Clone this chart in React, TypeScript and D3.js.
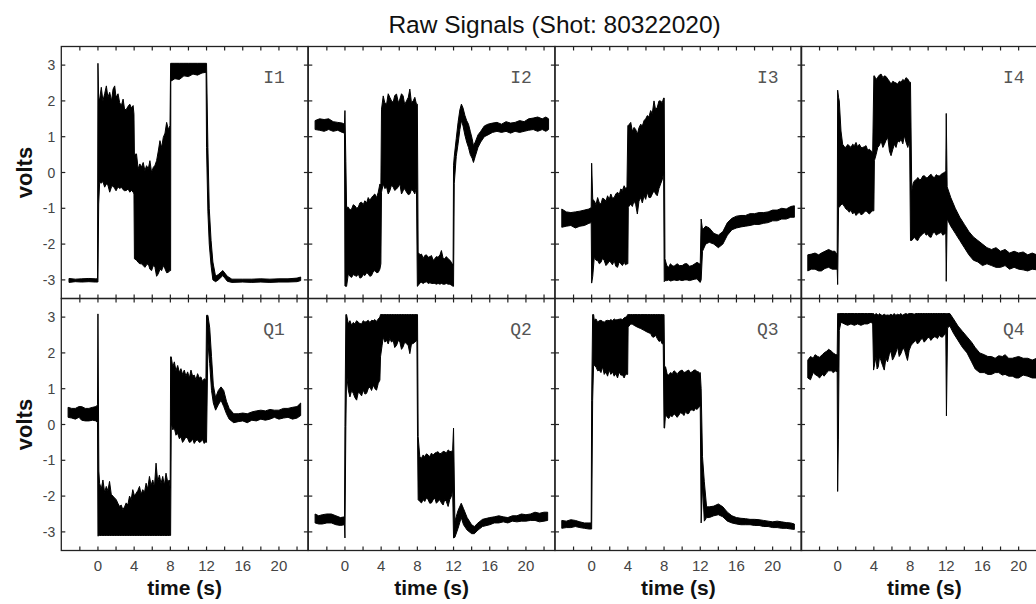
import React from 'react';
import * as d3 from 'd3';

type Pt = [number, number, number]; // [time, low envelope, high envelope]

const signalI1: Pt[] = [
  [-3.2,-3.07,-2.96],[-2.5,-3.05,-2.98],[-1.8,-3.06,-2.97],[-1.0,-3.05,-2.96],[-0.3,-3.06,-2.97],[-0.05,-3.06,-2.97],
  [0,-3.06,3.05],
  [0.08,-0.88,2.05],[0.19,-0.27,2.05],[0.37,-0.3,2.38],[0.55,-0.25,2.0],[0.74,-0.41,2.2],[0.93,-0.32,2.42],[1.1,-0.35,2.1],[1.3,-0.55,2.24],[1.5,-0.4,2.0],[1.67,-0.37,2.33],[1.85,-0.45,2.42],[2.0,-0.51,2.1],[2.22,-0.4,2.2],[2.4,-0.45,1.95],[2.59,-0.41,1.87],[2.78,-0.48,2.05],[2.95,-0.51,1.75],[3.15,-0.5,1.77],[3.33,-0.46,1.85],[3.52,-0.55,1.91],[3.7,-0.5,1.8],[3.89,-0.55,1.87],[3.98,-0.6,1.63],
  [4.03,-2.41,0.5],[4.26,-2.45,0.52],[4.44,-2.51,0.1],[4.63,-2.55,0.24],[4.81,-2.55,0.15],[5.0,-2.6,0.28],[5.19,-2.65,0.05],[5.37,-2.58,0.19],[5.56,-2.55,0.1],[5.74,-2.7,0.33],[5.93,-2.74,0.0],[6.11,-2.6,0.14],[6.3,-2.65,0.2],[6.48,-2.9,0.33],[6.67,-2.83,0.6],[6.85,-2.7,0.89],[7.04,-2.74,0.7],[7.22,-2.6,0.98],[7.41,-2.69,1.1],[7.59,-2.8,1.4],[7.78,-2.79,1.2],[7.96,-2.74,1.31],
  [8.03,-2.74,3.05],[8.05,2.55,3.05],[8.5,2.62,3.05],[9,2.6,3.05],[9.5,2.7,3.05],[10,2.68,3.05],[10.5,2.75,3.05],[11,2.72,3.05],[11.5,2.78,3.05],[11.95,2.8,3.05],
  [12.0,0.7,3.05],[12.15,-1.1,0.7],[12.3,-2.0,-1.0],[12.5,-2.6,-1.9],[12.7,-3.0,-2.5],[13.0,-3.05,-2.9],[13.3,-3.0,-2.85],[13.8,-2.88,-2.74],[14.3,-3.04,-2.9],[14.8,-3.07,-2.98],[16,-3.06,-2.98],[17,-3.07,-2.98],[18,-3.06,-2.97],[19,-3.07,-2.98],[20,-3.06,-2.97],[21,-3.06,-2.97],[22,-3.05,-2.95],[22.4,-3.02,-2.92],
];

const signalI2: Pt[] = [
  [-3.3,1.2,1.45],[-2.8,1.18,1.5],[-2.3,1.15,1.48],[-1.8,1.2,1.5],[-1.3,1.15,1.42],[-0.8,1.18,1.4],[-0.3,1.12,1.38],[-0.05,1.1,1.35],
  [0,-3.17,1.73],
  [0.1,-3.18,0.3],[0.18,-3.18,-0.97],[0.37,-2.83,-0.97],[0.55,-2.9,-1.05],[0.74,-2.93,-1.02],[0.92,-2.85,-0.9],[1.1,-2.88,-0.93],[1.3,-2.9,-1.0],[1.47,-2.83,-0.97],[1.65,-2.95,-0.85],[1.84,-2.93,-0.83],[2.02,-2.85,-0.9],[2.2,-2.88,-0.79],[2.4,-2.8,-0.85],[2.57,-2.83,-0.7],[2.75,-2.9,-0.78],[2.94,-2.88,-0.7],[3.1,-2.78,-0.65],[3.3,-2.74,-0.6],[3.5,-2.8,-0.7],[3.68,-2.79,-0.55],[3.86,-2.7,-0.32],[3.97,-2.55,-0.35],
  [4.04,-0.55,1.77],[4.23,-0.32,2.14],[4.4,-0.45,1.95],[4.6,-0.41,1.91],[4.78,-0.6,2.2],[4.96,-0.51,2.1],[5.15,-0.35,2.0],[5.33,-0.41,1.96],[5.5,-0.5,2.15],[5.7,-0.46,2.19],[5.9,-0.4,1.95],[6.07,-0.32,2.05],[6.25,-0.6,2.2],[6.43,-0.51,2.14],[6.6,-0.45,1.9],[6.8,-0.55,2.0],[7.0,-0.62,2.1],[7.17,-0.6,2.33],[7.35,-0.48,1.95],[7.54,-0.51,2.0],[7.72,-0.6,2.1],[7.9,-0.41,1.91],
  [8.0,-3.18,1.91],[8.09,-3.16,-2.23],[8.3,-3.08,-2.3],[8.46,-3.07,-2.28],[8.65,-3.1,-2.4],[8.82,-3.07,-2.32],[9.0,-3.05,-2.3],[9.19,-3.1,-2.37],[9.4,-3.08,-2.35],[9.56,-3.1,-2.32],[9.75,-3.1,-2.45],[9.93,-3.1,-2.41],[10.1,-3.12,-2.35],[10.29,-3.1,-2.37],[10.5,-3.12,-2.3],[10.66,-3.1,-2.18],[10.85,-3.12,-2.4],[11.03,-3.12,-2.41],[11.2,-3.1,-2.35],[11.4,-3.12,-2.41],[11.6,-3.12,-2.45],[11.76,-3.15,-2.51],[11.95,-3.18,-2.6],
  [12.0,-3.18,0.2],[12.08,-0.3,0.45],[12.3,0.45,0.95],[12.5,0.8,1.4],[12.7,1.2,1.75],[12.87,1.45,1.91],[13.05,1.3,1.8],[13.25,1.05,1.6],[13.45,0.85,1.45],[13.65,0.7,1.35],[13.85,0.5,1.15],[14.05,0.4,0.95],[14.2,0.28,0.75],[14.4,0.45,0.85],[14.7,0.7,1.05],[15.0,0.85,1.15],[15.4,1.0,1.3],[15.8,1.05,1.35],[16.3,1.12,1.38],[16.8,1.15,1.4],[17.3,1.12,1.35],[17.8,1.15,1.42],[18.3,1.1,1.38],[18.8,1.15,1.4],[19.3,1.12,1.45],[19.8,1.15,1.42],[20.3,1.18,1.5],[20.8,1.2,1.52],[21.3,1.15,1.55],[21.8,1.2,1.5],[22.2,1.15,1.55],[22.5,1.2,1.5],
];

const signalI3: Pt[] = [
  [-3.3,-1.53,-1.02],[-2.8,-1.5,-1.1],[-2.3,-1.48,-1.12],[-1.8,-1.55,-1.1],[-1.3,-1.5,-1.08],[-0.8,-1.48,-1.05],[-0.3,-1.42,-1.02],[-0.05,-1.4,-0.98],
  [0,-3.09,0.26],
  [0.12,-2.9,-0.75],[0.29,-2.37,-0.79],[0.48,-2.45,-0.9],[0.66,-2.46,-0.7],[0.85,-2.55,-0.85],[1.03,-2.51,-0.88],[1.2,-2.4,-0.72],[1.39,-2.46,-0.74],[1.58,-2.6,-0.8],[1.76,-2.55,-0.65],[1.94,-2.48,-0.75],[2.12,-2.51,-0.6],[2.3,-2.58,-0.72],[2.49,-2.46,-0.7],[2.67,-2.62,-0.6],[2.86,-2.65,-0.55],[3.04,-2.5,-0.62],[3.22,-2.55,-0.46],[3.4,-2.6,-0.5],[3.59,-2.51,-0.37],[3.75,-2.58,-0.45],[3.9,-2.55,-0.41],
  [4.0,-2.55,1.31],[4.05,-0.97,1.31],[4.32,-0.88,1.4],[4.5,-0.95,1.15],[4.69,-0.79,1.26],[4.87,-0.9,1.2],[5.05,-1.16,1.07],[5.23,-0.8,1.25],[5.42,-0.7,1.35],[5.6,-0.85,1.3],[5.79,-0.65,1.45],[5.97,-0.75,1.5],[6.15,-0.55,1.59],[6.33,-0.7,1.55],[6.52,-0.7,1.73],[6.7,-0.6,1.65],[6.89,-0.51,2.0],[7.07,-0.6,1.75],[7.25,-0.65,1.82],[7.44,-0.45,2.0],[7.62,-0.32,2.0],[7.8,-0.2,1.95],[7.95,0.0,2.08],
  [8.02,-3.05,2.08],[8.1,-3.02,-2.41],[8.3,-3.02,-2.6],[8.53,-3.0,-2.65],[8.7,-3.03,-2.55],[8.9,-3.02,-2.6],[9.1,-3.0,-2.62],[9.45,-3.02,-2.55],[9.7,-3.0,-2.6],[10.0,-3.02,-2.6],[10.3,-3.0,-2.55],[10.55,-3.0,-2.55],[10.8,-3.02,-2.62],[11.1,-3.0,-2.6],[11.4,-2.98,-2.55],[11.65,-2.97,-2.51],[11.9,-3.05,-2.55],[12.0,-3.07,-2.55],
  [12.1,-3.0,-1.3],[12.25,-2.2,-1.6],[12.6,-2.0,-1.5],[13.0,-1.95,-1.55],[13.5,-2.0,-1.7],[14.0,-2.1,-1.75],[14.5,-2.0,-1.65],[15.0,-1.75,-1.4],[15.5,-1.6,-1.28],[16,-1.55,-1.22],[16.5,-1.52,-1.2],[17,-1.5,-1.2],[17.5,-1.48,-1.15],[18,-1.45,-1.15],[18.5,-1.45,-1.12],[19,-1.42,-1.12],[19.5,-1.4,-1.1],[20,-1.35,-1.05],[20.5,-1.35,-1.05],[21,-1.3,-1.0],[21.5,-1.3,-1.02],[22,-1.25,-0.95],[22.4,-1.25,-0.93],
];

const signalI4: Pt[] = [
  [-3.3,-2.75,-2.3],[-2.9,-2.7,-2.28],[-2.5,-2.7,-2.25],[-2.1,-2.75,-2.3],[-1.8,-2.75,-2.25],[-1.4,-2.68,-2.2],[-1.0,-2.65,-2.15],[-0.6,-2.7,-2.2],[-0.3,-2.7,-2.2],[-0.05,-2.7,-2.3],
  [0,-3.13,2.3],
  [0.1,-0.97,2.1],[0.18,-0.97,2.0],[0.37,-0.9,1.16],[0.55,-0.88,0.79],[0.74,-0.95,0.72],[0.92,-1.02,0.7],[1.1,-1.05,0.78],[1.29,-1.11,0.75],[1.47,-1.05,0.7],[1.66,-1.16,0.79],[1.84,-1.1,0.75],[2.03,-1.2,0.84],[2.2,-1.15,0.72],[2.4,-1.11,0.79],[2.58,-1.18,0.7],[2.77,-1.16,0.7],[2.95,-1.1,0.72],[3.14,-1.07,0.75],[3.32,-1.12,0.62],[3.51,-1.16,0.65],[3.7,-1.1,0.6],[3.87,-1.07,0.56],
  [4.0,-1.07,2.7],[4.06,0.33,2.7],[4.25,0.5,2.6],[4.43,0.7,2.66],[4.6,0.75,2.72],[4.8,0.89,2.75],[5.0,0.7,2.65],[5.17,0.79,2.7],[5.35,0.9,2.68],[5.54,0.98,2.61],[5.72,0.6,2.55],[5.9,0.47,2.47],[6.1,0.65,2.55],[6.27,0.79,2.52],[6.45,0.7,2.5],[6.64,0.89,2.47],[6.82,0.85,2.55],[7.01,0.93,2.52],[7.2,0.8,2.6],[7.38,1.03,2.56],[7.55,0.85,2.65],[7.75,0.7,2.61],[7.95,0.89,2.52],
  [8.05,-1.9,2.52],[8.19,-1.9,-0.51],[8.35,-1.85,-0.3],[8.49,-1.81,-0.23],[8.68,-1.88,-0.2],[8.86,-1.9,-0.14],[9.05,-1.8,-0.2],[9.23,-1.76,-0.19],[9.4,-1.72,-0.1],[9.59,-1.67,-0.09],[9.78,-1.75,-0.15],[9.96,-1.72,-0.14],[10.15,-1.8,-0.08],[10.33,-1.81,-0.05],[10.5,-1.7,-0.12],[10.7,-1.67,-0.14],[10.9,-1.75,-0.06],[11.07,-1.72,-0.09],[11.25,-1.7,-0.1],[11.44,-1.67,-0.05],[11.62,-1.75,-0.02],[11.81,-1.72,0.0],[11.95,-1.7,0.05],
  [12.0,-3.04,1.65],
  [12.1,-1.3,-0.4],[12.5,-1.5,-0.7],[13,-1.7,-1.0],[13.5,-1.9,-1.25],[14,-2.1,-1.45],[14.5,-2.3,-1.65],[15,-2.45,-1.8],[15.5,-2.5,-1.9],[16,-2.6,-2.0],[16.5,-2.55,-2.1],[17,-2.6,-2.15],[17.5,-2.65,-2.1],[18,-2.65,-2.2],[18.5,-2.6,-2.15],[19,-2.7,-2.25],[19.5,-2.65,-2.2],[20,-2.7,-2.25],[20.5,-2.72,-2.22],[21,-2.75,-2.3],[21.5,-2.7,-2.25],[22,-2.72,-2.3],[22.5,-2.7,-2.28],[23.2,-2.7,-2.3],
];

const signalQ1: Pt[] = [
  [-3.3,0.2,0.48],[-2.9,0.18,0.45],[-2.5,0.15,0.45],[-2.1,0.2,0.5],[-1.8,0.12,0.5],[-1.4,0.1,0.45],[-1.0,0.1,0.45],[-0.6,0.12,0.48],[-0.2,0.1,0.5],[-0.05,0.05,0.55],
  [0,-3.12,3.09],
  [0.1,-3.1,-1.3],[0.18,-3.1,-1.64],[0.37,-3.1,-1.8],[0.55,-3.1,-1.55],[0.74,-3.1,-1.9],[0.92,-3.1,-1.73],[1.1,-3.1,-1.85],[1.28,-3.1,-1.59],[1.47,-3.1,-1.95],[1.65,-3.1,-2.0],[1.84,-3.1,-2.05],[2.02,-3.1,-2.1],[2.2,-3.1,-2.2],[2.39,-3.1,-2.29],[2.57,-3.1,-2.25],[2.75,-3.1,-2.38],[2.94,-3.1,-2.3],[3.12,-3.1,-2.19],[3.3,-3.1,-2.25],[3.49,-3.1,-2.0],[3.67,-3.1,-2.1],[3.85,-3.1,-1.82],[4.04,-3.1,-2.0],[4.22,-3.1,-1.92],[4.4,-3.1,-1.85],[4.59,-3.1,-1.73],[4.77,-3.1,-1.95],[4.95,-3.1,-1.82],[5.14,-3.1,-1.9],[5.32,-3.1,-1.64],[5.5,-3.1,-1.8],[5.69,-3.1,-1.45],[5.87,-3.1,-1.7],[6.06,-3.1,-1.55],[6.24,-3.1,-1.75],[6.42,-3.1,-1.08],[6.6,-3.1,-1.6],[6.79,-3.1,-1.41],[6.97,-3.1,-1.65],[7.16,-3.1,-1.45],[7.34,-3.1,-1.7],[7.52,-3.1,-1.36],[7.7,-3.1,-1.6],[7.89,-3.1,-1.55],[7.98,-3.1,-1.78],
  [8.03,-3.1,1.89],[8.1,0.03,1.89],[8.27,-0.15,1.6],[8.44,-0.1,1.75],[8.62,-0.3,1.5],[8.81,-0.25,1.65],[9.0,-0.4,1.45],[9.17,-0.34,1.56],[9.35,-0.5,1.4],[9.54,-0.43,1.52],[9.72,-0.35,1.35],[9.91,-0.39,1.47],[10.1,-0.5,1.3],[10.28,-0.48,1.52],[10.46,-0.4,1.35],[10.64,-0.53,1.38],[10.83,-0.45,1.25],[11.01,-0.43,1.42],[11.2,-0.5,1.3],[11.38,-0.48,1.33],[11.56,-0.42,1.2],[11.74,-0.53,1.28],[11.93,-0.48,1.24],
  [12.0,-0.5,3.05],[12.15,2.3,3.05],[12.35,1.7,2.7],[12.55,0.95,1.9],[12.75,0.6,1.1],[13.0,0.4,0.75],[13.3,0.55,0.95],[13.6,0.68,1.05],[13.9,0.5,0.95],[14.2,0.3,0.65],[14.5,0.15,0.45],[15,0.05,0.3],[15.5,0.08,0.3],[16,0.1,0.32],[16.5,0.05,0.3],[17,0.12,0.35],[17.5,0.1,0.38],[18,0.15,0.4],[18.5,0.12,0.38],[19,0.15,0.42],[19.5,0.2,0.4],[20,0.15,0.4],[20.5,0.18,0.45],[21,0.2,0.45],[21.5,0.15,0.48],[22,0.18,0.5],[22.4,0.25,0.6],
];

const signalQ2: Pt[] = [
  [-3.3,-2.75,-2.5],[-2.9,-2.78,-2.55],[-2.5,-2.78,-2.52],[-2.0,-2.75,-2.5],[-1.5,-2.75,-2.5],[-1.0,-2.8,-2.55],[-0.5,-2.82,-2.6],[-0.05,-2.8,-2.58],
  [0,-3.17,-0.06],[0.1,-0.06,3.07],[0.18,1.42,3.07],[0.37,0.96,2.81],[0.55,0.77,2.9],[0.74,0.95,2.77],[0.92,0.87,2.85],[1.1,0.75,2.81],[1.29,0.68,2.9],[1.47,0.9,2.86],[1.65,0.87,2.82],[1.84,0.8,2.81],[2.02,0.96,2.9],[2.21,0.85,2.86],[2.39,0.87,2.88],[2.57,1.0,2.91],[2.76,1.05,2.85],[2.94,0.95,2.91],[3.13,1.1,2.9],[3.31,1.0,2.93],[3.49,0.96,2.88],[3.68,1.15,2.95],[3.86,1.24,3.0],
  [3.93,1.89,3.07],[4.1,2.2,3.07],[4.23,2.44,3.07],[4.42,2.3,3.07],[4.6,2.35,3.07],[4.78,2.25,3.07],[4.96,2.4,3.07],[5.15,2.3,3.07],[5.33,2.35,3.07],[5.5,2.15,3.07],[5.7,2.21,3.07],[5.9,2.35,3.07],[6.07,2.3,3.07],[6.25,2.1,3.07],[6.43,2.17,3.07],[6.6,2.3,3.07],[6.8,2.26,3.07],[7.0,2.2,3.07],[7.17,1.98,3.07],[7.35,2.25,3.07],[7.54,2.26,3.07],[7.72,2.3,3.07],[7.95,2.35,3.07],
  [8.02,-0.34,3.07],[8.09,-2.1,-0.34],[8.27,-2.15,-0.9],[8.46,-2.19,-0.94],[8.64,-2.1,-0.85],[8.82,-2.15,-0.9],[9.0,-2.05,-0.82],[9.19,-2.1,-0.85],[9.37,-2.2,-0.9],[9.56,-2.19,-0.8],[9.75,-2.1,-0.85],[9.93,-2.06,-0.8],[10.1,-2.2,-0.78],[10.29,-2.15,-0.76],[10.47,-2.1,-0.82],[10.66,-2.19,-0.8],[10.85,-2.25,-0.75],[11.03,-2.1,-0.76],[11.2,-2.15,-0.8],[11.4,-2.29,-0.71],[11.58,-2.1,-0.75],[11.76,-2.01,-0.76],[11.9,-1.82,-0.71],
  [12.0,-3.17,-0.1],[12.15,-3.15,-2.7],[12.5,-2.9,-2.4],[12.85,-2.6,-2.2],[13.1,-2.8,-2.35],[13.5,-2.95,-2.6],[14.0,-3.05,-2.8],[14.3,-3.05,-2.85],[14.7,-2.95,-2.75],[15.2,-2.85,-2.65],[16,-2.8,-2.6],[16.5,-2.75,-2.58],[17,-2.75,-2.55],[17.5,-2.72,-2.58],[18,-2.75,-2.6],[18.5,-2.7,-2.55],[19,-2.72,-2.55],[19.5,-2.7,-2.5],[20,-2.7,-2.52],[20.5,-2.68,-2.5],[21,-2.68,-2.45],[21.5,-2.72,-2.48],[22,-2.7,-2.45],[22.4,-2.68,-2.45],
];

const signalQ3: Pt[] = [
  [-3.3,-2.9,-2.68],[-2.8,-2.88,-2.7],[-2.3,-2.88,-2.66],[-1.8,-2.85,-2.68],[-1.3,-2.88,-2.72],[-0.8,-2.9,-2.75],[-0.3,-2.92,-2.75],[-0.05,-2.92,-2.75],
  [0,-2.92,0.68],[0.11,0.68,3.07],[0.22,1.73,3.07],[0.29,1.65,2.91],[0.48,1.61,2.95],[0.66,1.5,2.86],[0.84,1.52,2.9],[1.03,1.45,2.91],[1.21,1.61,2.88],[1.39,1.4,2.86],[1.58,1.47,2.9],[1.76,1.35,2.91],[1.94,1.52,2.9],[2.12,1.4,2.93],[2.31,1.47,2.9],[2.49,1.35,2.95],[2.67,1.42,2.92],[2.86,1.3,2.93],[3.04,1.47,2.94],[3.22,1.38,2.95],[3.41,1.38,2.93],[3.59,1.3,2.98],[3.77,1.42,3.0],[3.88,1.4,3.02],
  [3.98,1.4,3.07],[4.03,2.72,3.07],[4.32,2.81,3.07],[4.5,2.8,3.07],[4.69,2.77,3.07],[5.05,2.72,3.07],[5.42,2.68,3.07],[5.79,2.63,3.07],[6.15,2.58,3.07],[6.52,2.54,3.07],[6.7,2.45,3.07],[6.89,2.44,3.07],[7.05,2.5,3.07],[7.25,2.4,3.07],[7.45,2.32,3.07],[7.62,2.35,3.07],[7.8,2.25,3.07],[7.91,2.26,3.07],
  [8.0,-0.1,3.07],[8.06,-0.1,1.61],[8.17,0.31,1.61],[8.35,0.2,1.4],[8.53,0.17,1.38],[8.7,0.25,1.45],[8.9,0.22,1.42],[9.1,0.3,1.5],[9.27,0.26,1.47],[9.45,0.2,1.4],[9.63,0.26,1.47],[9.8,0.33,1.5],[10.0,0.31,1.52],[10.2,0.25,1.45],[10.37,0.36,1.47],[10.55,0.3,1.5],[10.73,0.31,1.52],[10.9,0.4,1.45],[11.1,0.41,1.47],[11.3,0.38,1.52],[11.47,0.45,1.52],[11.65,0.42,1.48],[11.83,0.48,1.47],[11.94,0.5,1.42],
  [12.0,0.5,1.45],[12.1,-2.75,1.0],[12.25,-1.7,-0.9],[12.45,-2.7,-1.6],[12.7,-2.6,-2.3],[13.0,-2.6,-2.3],[13.5,-2.55,-2.28],[14.0,-2.52,-2.22],[14.5,-2.58,-2.3],[15,-2.7,-2.45],[15.5,-2.75,-2.55],[16,-2.78,-2.6],[16.5,-2.8,-2.62],[17,-2.8,-2.63],[17.5,-2.8,-2.65],[18,-2.82,-2.65],[18.5,-2.82,-2.66],[19,-2.85,-2.68],[19.5,-2.85,-2.7],[20,-2.88,-2.72],[20.5,-2.88,-2.7],[21,-2.9,-2.72],[21.5,-2.9,-2.74],[22,-2.92,-2.75],[22.4,-2.93,-2.78],
];

const signalQ4: Pt[] = [
  [-3.3,1.3,1.8],[-3.0,1.25,1.9],[-2.7,1.45,1.85],[-2.5,1.4,1.95],[-2.2,1.35,1.9],[-2.0,1.3,1.88],[-1.7,1.4,1.95],[-1.5,1.35,2.0],[-1.2,1.45,2.05],[-1.0,1.5,2.1],[-0.7,1.5,2.05],[-0.5,1.45,2.0],[-0.2,1.5,1.95],[-0.05,1.45,1.95],
  [0,-1.87,3.1],[0.08,-0.43,3.1],[0.18,2.63,3.1],[0.37,2.86,3.1],[0.74,2.81,3.1],[1.1,2.77,3.1],[1.47,2.81,3.1],[1.84,2.77,3.1],[2.21,2.81,3.1],[2.57,2.77,3.1],[2.94,2.81,3.1],[3.31,2.81,3.1],[3.68,2.86,3.1],[3.87,2.81,3.1],
  [3.97,1.52,3.1],[4.1,1.7,3.05],[4.23,1.89,3.1],[4.36,1.55,3.08],[4.49,1.61,3.05],[4.63,1.9,3.1],[4.78,1.79,3.06],[4.96,1.65,3.05],[5.15,1.52,3.08],[5.33,1.85,3.05],[5.51,1.75,3.06],[5.7,1.95,3.05],[5.88,2.07,3.08],[6.06,1.8,3.05],[6.25,1.89,3.1],[6.43,2.0,3.05],[6.62,2.17,3.08],[6.8,1.9,3.06],[6.99,1.98,3.1],[7.17,2.1,3.05],[7.35,2.12,3.08],[7.53,1.95,3.1],[7.72,1.79,3.08],[7.9,2.07,3.1],
  [8.1,2.2,3.1],[8.27,2.26,3.1],[8.45,2.3,3.08],[8.64,2.35,3.1],[8.82,2.25,3.1],[9.01,2.3,3.1],[9.2,2.38,3.1],[9.38,2.4,3.1],[9.56,2.3,3.1],[9.74,2.35,3.1],[9.93,2.42,3.1],[10.11,2.44,3.1],[10.3,2.35,3.1],[10.48,2.4,3.1],[10.66,2.45,3.1],[10.85,2.44,3.1],[11.03,2.4,3.1],[11.21,2.49,3.1],[11.4,2.45,3.1],[11.58,2.44,3.1],[11.76,2.5,3.1],[11.95,2.54,3.1],
  [12.02,0.24,3.1],[12.15,2.7,3.1],[12.4,2.75,3.1],[12.8,2.55,2.95],[13.3,2.35,2.75],[13.8,2.15,2.6],[14.3,2.0,2.45],[14.8,1.75,2.3],[15.2,1.55,2.15],[15.7,1.45,2.0],[16.2,1.45,1.95],[16.6,1.4,1.9],[17,1.4,1.9],[17.4,1.45,1.85],[17.8,1.45,1.92],[18.2,1.38,1.9],[18.5,1.4,1.95],[18.9,1.35,1.85],[19.3,1.35,1.85],[19.7,1.3,1.88],[20,1.3,1.9],[20.5,1.38,1.85],[21,1.35,1.85],[21.5,1.3,1.8],[22,1.3,1.85],[22.5,1.35,1.8],[23.2,1.35,1.8],
];

const panelNames = ['I1', 'I2', 'I3', 'I4', 'Q1', 'Q2', 'Q3', 'Q4'];
const timeTicks = [-2, 0, 2, 4, 6, 8, 10, 12, 14, 16, 18, 20, 22];
const timeLabels = [0, 4, 8, 12, 16, 20];
const voltTicks = [-3, -2, -1, 0, 1, 2, 3];
const titleText = 'Raw Signals (Shot: 80322020)';
const yTitle = 'volts';
const xTitle = 'time (s)';

const W = 1036;
const H = 604;
const colLeft = [61.3, 308.3, 555, 801];
const panelW = 246.6;
const rowTop = [46.5, 298.5];
const panelH = 252;
const tickLen = 4;
const frameColor = '#222';

export default function App() {
  const signals = [signalI1, signalI2, signalI3, signalI4, signalQ1, signalQ2, signalQ3, signalQ4];

  const panels = panelNames.map((name, i) => {
    const row = Math.floor(i / 4);
    const col = i % 4;
    const left = colLeft[col];
    const top = rowTop[row];
    const x = d3.scaleLinear().domain([-4.05, 23.2]).range([left, left + panelW]);
    const y = d3.scaleLinear().domain([-3.52, 3.52]).range([top + panelH, top]);
    const area = d3
      .area<Pt>()
      .x((d) => x(d[0]))
      .y0((d) => y(d[1]))
      .y1((d) => y(d[2]));
    return { name, row, col, left, top, x, y, path: area(signals[i]) || '' };
  });

  return (
    <svg
      width={W}
      height={H}
      style={{ position: 'absolute', left: 0, top: 0, background: '#fff' }}
      fontFamily="'Liberation Sans', Arial, sans-serif"
    >
      <rect x={0} y={0} width={W} height={H} fill="#fff" />
      <defs>
        {panels.map((p) => (
          <clipPath id={`clip-${p.name}`} key={p.name}>
            <rect x={p.left} y={p.top} width={panelW} height={panelH} />
          </clipPath>
        ))}
      </defs>

      <text x={554.6} y={33} textAnchor="middle" fontSize={24.5} fill="#111">
        {titleText}
      </text>

      {panels.map((p) => (
        <g key={p.name}>
          <path
            d={p.path}
            fill="#000"
            stroke="#000"
            strokeWidth={1}
            strokeLinejoin="miter"
            clipPath={`url(#clip-${p.name})`}
          />
          <rect
            x={p.left}
            y={p.top}
            width={panelW}
            height={panelH}
            fill="none"
            stroke={frameColor}
            strokeWidth={1.3}
          />
          {voltTicks.map((v) => (
            <g key={`v${v}`}>
              <line x1={p.left} x2={p.left + tickLen} y1={p.y(v)} y2={p.y(v)} stroke={frameColor} strokeWidth={1.2} />
              <line
                x1={p.left + panelW - tickLen}
                x2={p.left + panelW}
                y1={p.y(v)}
                y2={p.y(v)}
                stroke={frameColor}
                strokeWidth={1.2}
              />
            </g>
          ))}
          {timeTicks.map((t) => (
            <g key={`t${t}`}>
              <line x1={p.x(t)} x2={p.x(t)} y1={p.top} y2={p.top + tickLen} stroke={frameColor} strokeWidth={1.2} />
              <line
                x1={p.x(t)}
                x2={p.x(t)}
                y1={p.top + panelH - tickLen}
                y2={p.top + panelH}
                stroke={frameColor}
                strokeWidth={1.2}
              />
            </g>
          ))}
          <text
            x={p.left + panelW - 23}
            y={p.top + 36}
            textAnchor="end"
            fontFamily="'Liberation Mono', 'Courier New', monospace"
            fontSize={18}
            fill="#555"
          >
            {p.name}
          </text>
          {p.col === 0 &&
            voltTicks.map((v) => (
              <text key={`vl${v}`} x={p.left - 6} y={p.y(v)} dy="0.36em" textAnchor="end" fontSize={14} fill="#444">
                {v}
              </text>
            ))}
          {p.col === 0 && (
            <text
              transform={`translate(${32},${p.top + panelH / 2}) rotate(-90)`}
              textAnchor="middle"
              fontSize={22}
              fontWeight="bold"
              fill="#111"
            >
              {yTitle}
            </text>
          )}
          {p.row === 1 &&
            timeLabels.map((t) => (
              <text key={`tl${t}`} x={p.x(t)} y={p.top + panelH + 20} textAnchor="middle" fontSize={15} fill="#444">
                {t}
              </text>
            ))}
          {p.row === 1 && (
            <text x={p.left + panelW / 2} y={595} textAnchor="middle" fontSize={21} fontWeight="bold" fill="#111">
              {xTitle}
            </text>
          )}
        </g>
      ))}
    </svg>
  );
}
